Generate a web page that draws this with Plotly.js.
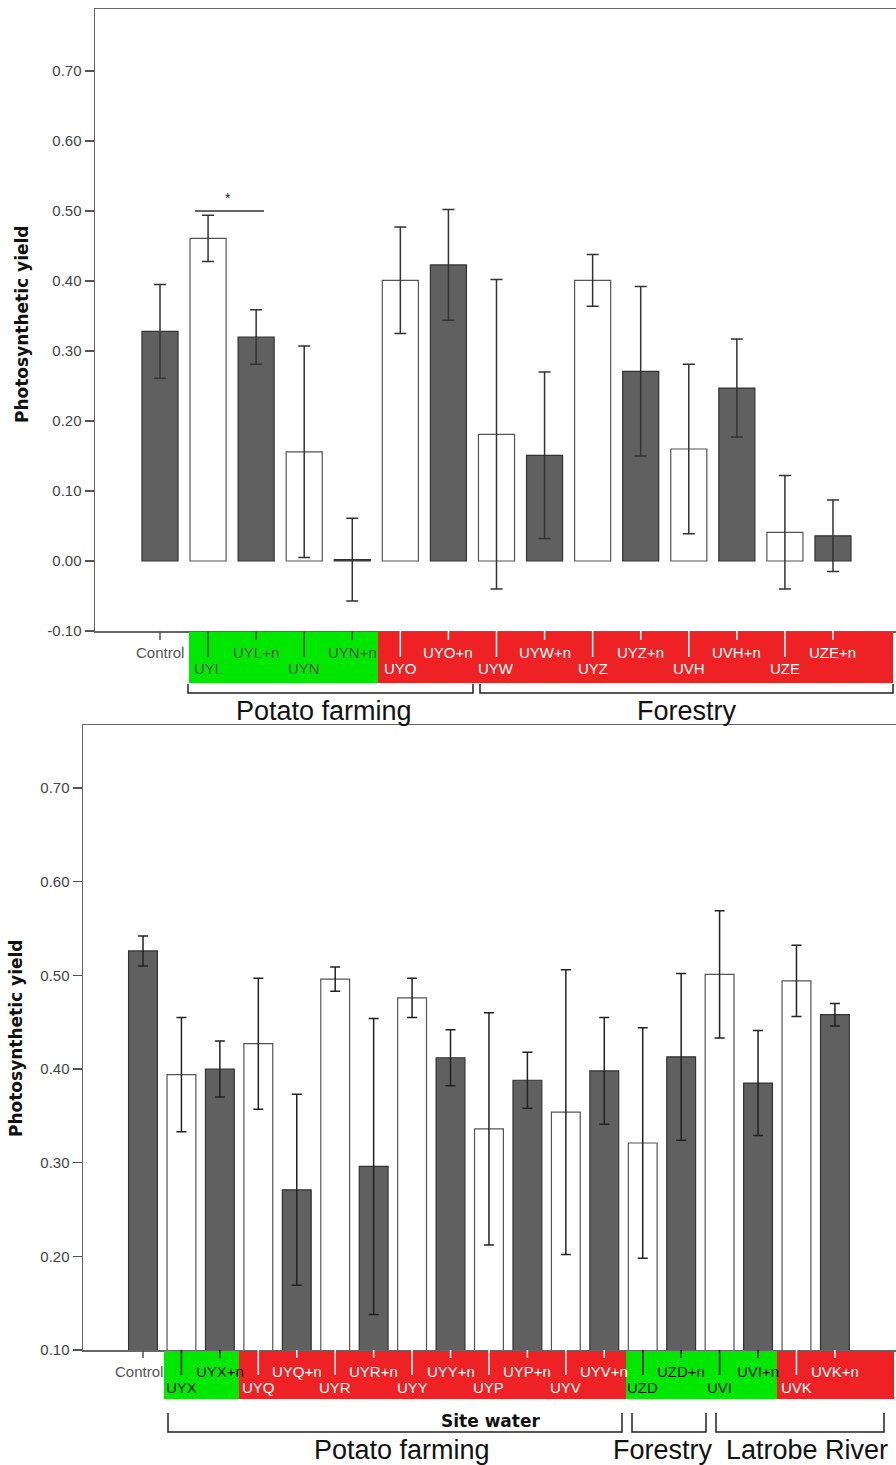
<!DOCTYPE html>
<html>
<head>
<meta charset="utf-8">
<script src="https://cdn.plot.ly/plotly-3.0.1.min.js"></script>
<style>
html,body{margin:0;padding:0;background:#fff;overflow:hidden;}
#chart{width:896px;height:1465px;}
</style>
</head>
<body>
<div id="chart"></div>
<script>
// ---------- DATA ----------
const topCategories = ['Control','UYL','UYL+n','UYN','UYN+n','UYO','UYO+n','UYW','UYW+n','UYZ','UYZ+n','UVH','UVH+n','UZE','UZE+n'];
const topMeans = [0.328,0.461,0.320,0.156,0.002,0.401,0.423,0.181,0.151,0.401,0.271,0.160,0.247,0.041,0.036];
const topErrors = [0.067,0.033,0.039,0.151,0.059,0.076,0.079,0.221,0.119,0.037,0.121,0.121,0.070,0.081,0.051];

const bottomCategories = ['Control','UYX','UYX+n','UYQ','UYQ+n','UYR','UYR+n','UYY','UYY+n','UYP','UYP+n','UYV','UYV+n','UZD','UZD+n','UVI','UVI+n','UVK','UVK+n'];
const bottomMeans = [0.526,0.394,0.400,0.427,0.271,0.496,0.296,0.476,0.412,0.336,0.388,0.354,0.398,0.321,0.413,0.501,0.385,0.494,0.458];
const bottomErrors = [0.016,0.061,0.030,0.070,0.102,0.013,0.158,0.021,0.030,0.124,0.030,0.152,0.057,0.123,0.089,0.068,0.056,0.038,0.012];

const topTickVals = [-0.10,0.00,0.10,0.20,0.30,0.40,0.50,0.60,0.70];
const bottomTickVals = [0.10,0.20,0.30,0.40,0.50,0.60,0.70];

const topGroups = ['Potato farming','Forestry'];
const bottomGroups = ['Site water','Potato farming','Forestry','Latrobe River'];
const yTitle = 'Photosynthetic yield';

// ---------- LAYOUT HELPERS ----------
const W = 896, H = 1465;
const py = p => (H - p) / H;
const pxp = p => p / W;
const tu = p => (p - 160) / 48.07;   // top x pixel -> category units
const bu = p => (p - 143) / 38.44;   // bottom x pixel -> category units

const GREEN = 'rgb(0,232,0)';
const RED = 'rgb(238,34,36)';
const DARK = '#606060';
const FONT = 'Liberation Sans, Arial, sans-serif';

function barColors(cats){ return cats.map(c => (c === 'Control' || c.endsWith('+n')) ? DARK : '#ffffff'); }
function barLines(cats){ return cats.map(c => (c === 'Control' || c.endsWith('+n')) ? '#333333' : '#555555'); }
const fmtTicks = vals => vals.map(v => v.toFixed(2));

const traces = [
  {
    type:'bar', x: topCategories, y: topMeans, xaxis:'x', yaxis:'y', width:0.75,
    marker:{color: barColors(topCategories), line:{color: barLines(topCategories), width:1.2}},
    error_y:{type:'data', array: topErrors, visible:true, color:'#333', thickness:1.5, width:6},
    hoverinfo:'x+y', showlegend:false
  },
  {
    type:'bar', x: bottomCategories, y: bottomMeans, xaxis:'x2', yaxis:'y2', width:0.75,
    marker:{color: barColors(bottomCategories), line:{color: barLines(bottomCategories), width:1.2}},
    error_y:{type:'data', array: bottomErrors, visible:true, color:'#222', thickness:1.5, width:5},
    hoverinfo:'x+y', showlegend:false
  }
];

const shapes = [];
const annotations = [];

// band segments
const topBands = [
  {from: tu(189), to: tu(378), color: GREEN, label:'#555', tick:'#444'},
  {from: tu(378), to: tu(893), color: RED, label:'#ffffff', tick:'#ffffff'}
];
const bottomBands = [
  {from: bu(164), to: bu(239), color: GREEN, label:'#111', tick:'#111'},
  {from: bu(239), to: bu(626), color: RED, label:'#ffffff', tick:'#ffffff'},
  {from: bu(626), to: bu(777), color: GREEN, label:'#111', tick:'#111'},
  {from: bu(777), to: bu(894), color: RED, label:'#ffffff', tick:'#ffffff'}
];

function buildBand(cats, bands, xref, cfg){
  bands.forEach(b => shapes.push({type:'rect', xref:xref, yref:'paper', x0:b.from, x1:b.to,
    y0:py(cfg.bandTop), y1:py(cfg.bandBottom), fillcolor:b.color, line:{width:0}, layer:'above'}));
  cats.forEach((c,i) => {
    let band = bands.find(b => i >= b.from && i < b.to);
    const lower = (i % 2 === 1);
    let tickCol = band ? band.tick : '#555';
    let labCol = band ? band.label : '#555';
    shapes.push({type:'line', xref:xref, yref:'paper', x0:i, x1:i,
      y0:py(cfg.bandTop - 1), y1:py(lower ? cfg.longEnd : cfg.shortEnd),
      line:{color:tickCol, width:1.5}, layer:'above'});
    const ann = {xref:xref, yref:'paper', x:i, y:py(lower ? cfg.lowRow : cfg.upRow),
      text:c, showarrow:false, xanchor:'center', yanchor:'middle',
      font:{family:FONT, size:15, color:labCol}};
    if (!band) { ann.x = cfg.ctrlRight; ann.xanchor = 'right'; }
    annotations.push(ann);
  });
}
buildBand(topCategories, topBands, 'x', {bandTop:632, bandBottom:683, shortEnd:640, longEnd:657, upRow:652, lowRow:668, ctrlRight: tu(186)});
buildBand(bottomCategories, bottomBands, 'x2', {bandTop:1351, bandBottom:1399, shortEnd:1358, longEnd:1375, upRow:1371, lowRow:1387, ctrlRight: bu(165)});

// brackets
function bracket(x0, x1, yTop, yBot){
  shapes.push({type:'path', xref:'paper', yref:'paper',
    path:`M ${pxp(x0)} ${py(yTop)} L ${pxp(x0)} ${py(yBot)} L ${pxp(x1)} ${py(yBot)} L ${pxp(x1)} ${py(yTop)}`,
    line:{color:'#222', width:1.5}});
}
bracket(188, 473, 684, 693);
bracket(480, 893, 684, 693);
bracket(168, 622, 1413, 1432);
bracket(632, 706, 1413, 1432);
bracket(716, 884, 1413, 1432);

function groupText(t, x, y, size, bold){
  annotations.push({xref:'paper', yref:'paper', x:pxp(x), y:py(y), text: bold ? '<b>'+t+'</b>' : t,
    showarrow:false, xanchor:'center', yanchor:'middle',
    font:{family: bold ? 'DejaVu Sans, sans-serif' : FONT, size:size, color:'#111'}});
}
groupText(topGroups[0], 324, 711, 27, false);
groupText(topGroups[1], 687, 711, 27, false);
groupText(bottomGroups[0], 490, 1421, 17, true);
groupText(bottomGroups[1], 402, 1450, 27, false);
groupText(bottomGroups[2], 663, 1450, 27, false);
groupText(bottomGroups[3], 807, 1450, 27, false);

// y titles
annotations.push({xref:'paper', yref:'paper', x:pxp(22), y:py(324), text:'<b>'+yTitle+'</b>', textangle:-90,
  showarrow:false, xanchor:'center', yanchor:'middle', font:{family:'DejaVu Sans, sans-serif', size:17, color:'#111'}});
annotations.push({xref:'paper', yref:'paper', x:pxp(16), y:py(1038), text:'<b>'+yTitle+'</b>', textangle:-90,
  showarrow:false, xanchor:'center', yanchor:'middle', font:{family:'DejaVu Sans, sans-serif', size:17, color:'#111'}});

// significance marker (top panel, UYL vs UYL+n)
shapes.push({type:'line', xref:'x', yref:'y', x0:tu(195), x1:tu(264), y0:0.50, y1:0.50, line:{color:'#333', width:1.3}});
annotations.push({xref:'x', yref:'y', x:tu(228), y:0.518, text:'*', showarrow:false, font:{family:FONT, size:14, color:'#222'}});

const axisY = {
  showgrid:false, zeroline:false, showline:true, linecolor:'#666', linewidth:1.5,
  ticks:'outside', ticklen:9, tickwidth:1.5, tickcolor:'#555', tickmode:'array',
  tickfont:{family:FONT, size:15, color:'#444'}, fixedrange:true
};
const axisX = {
  type:'category', showgrid:false, zeroline:false, showline:true, mirror:true, linecolor:'#666', linewidth:1.5,
  ticks:'', showticklabels:false, fixedrange:true
};

const layout = {
  width:W, height:H, margin:{l:0, r:0, t:0, b:0},
  paper_bgcolor:'#fff', plot_bgcolor:'#fff', showlegend:false,
  xaxis: Object.assign({}, axisX, {domain:[pxp(95), 1], range:[tu(95), tu(896)], anchor:'y'}),
  yaxis: Object.assign({}, axisY, {domain:[py(631), py(9)], range:[-0.10, -0.10 + (631-9)/700],
    tickvals: topTickVals, ticktext: fmtTicks(topTickVals), anchor:'x'}),
  xaxis2: Object.assign({}, axisX, {domain:[pxp(83), 1], range:[bu(83), bu(896)], anchor:'y2'}),
  yaxis2: Object.assign({}, axisY, {domain:[py(1350), py(725)], range:[0.10, 0.10 + (1350-725)/936.7],
    tickvals: bottomTickVals, ticktext: fmtTicks(bottomTickVals), anchor:'x2'}),
  shapes: shapes, annotations: annotations, bargap:0.25
};

Plotly.newPlot('chart', traces, layout, {displayModeBar:false, staticPlot:true});
</script>
</body>
</html>
